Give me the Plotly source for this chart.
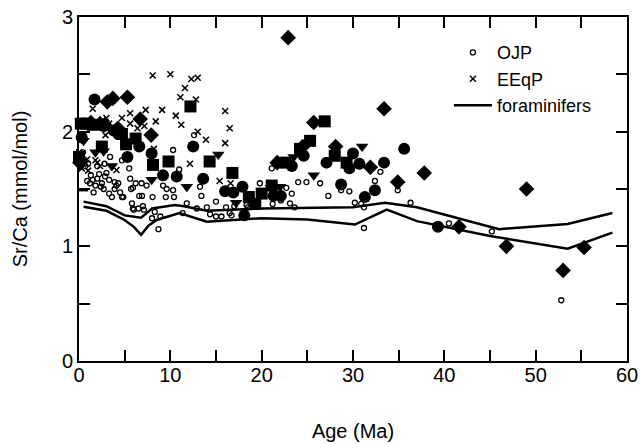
import plotly.graph_objects as go

# ---------------- data ----------------
ojp_x = [0.3, 0.45, 0.6, 0.7, 0.9, 1.0, 1.2, 1.3, 1.5, 1.6, 1.8, 2.0, 2.0, 2.2, 2.4, 2.5, 2.7, 2.8, 2.85, 3.0,
         3.3, 3.3, 3.4, 3.6, 3.9, 3.9, 4.1, 4.3, 4.5, 4.7, 4.7, 4.85, 5.5, 5.6, 5.7, 5.8, 5.9, 5.9, 6.0, 6.2,
         6.5, 6.6, 6.85, 6.9, 7.0, 7.1, 7.4, 8.0, 8.05, 8.3, 8.7, 8.9, 9.2, 9.5, 9.6, 10.3, 10.3, 10.4, 10.97, 11.35,
         11.8, 12.6, 12.9, 13.25, 13.4, 14.0, 14.35, 15.0, 15.0, 15.6, 16.1, 16.5, 16.7, 17.0, 18.35, 18.5, 19.8, 21.1, 21.2, 22.1,
         22.7, 23.1, 23.3, 23.6, 24.0, 24.9, 26.4, 27.3, 28.7, 29.6, 30.2, 30.9, 31.2, 31.2, 32.4, 33.0, 34.9, 36.3, 40.5, 45.2,
         52.8]
ojp_y = [1.78, 1.82, 1.74, 1.70, 1.57, 1.72, 1.55, 1.62, 1.58, 1.47, 1.53, 1.59, 1.70, 1.63, 1.52, 1.55, 1.50, 1.72, 1.61, 1.64,
         1.46, 1.58, 1.78, 1.43, 1.50, 1.56, 1.53, 1.55, 1.47, 1.43, 1.75, 1.43, 1.68, 1.59, 1.50, 1.375, 1.33, 1.51, 1.32, 1.55,
         1.33, 1.44, 1.55, 1.44, 1.35, 1.32, 1.53, 1.245, 1.43, 1.30, 1.15, 1.26, 1.53, 1.43, 1.50, 1.49, 1.84, 1.43, 1.67, 1.29,
         1.375, 1.97, 1.33, 1.52, 1.44, 1.34, 1.28, 1.39, 1.26, 1.26, 1.34, 1.29, 1.27, 1.35, 1.36, 1.34, 1.55, 1.68, 1.37, 1.40,
         1.51, 1.375, 1.46, 1.34, 1.56, 1.56, 1.55, 1.44, 1.49, 1.48, 1.38, 1.37, 1.34, 1.16, 1.57, 1.65, 1.49, 1.38, 1.20, 1.13,
         0.53]

eeqp_x = [0.0, 0.4, 0.9, 1.5, 2.0, 2.3, 2.9, 3.0, 3.3, 4.1, 4.7, 5.6, 5.6, 6.4, 7.15, 7.3, 8.07, 8.2, 8.4, 9.1,
          10.0, 10.6, 11.1, 11.2, 11.6, 12.15, 12.3, 12.8, 13.0, 13.0, 13.9, 15.4, 16.0, 16.0, 16.5, 16.6, 1.0, 0.3, 1.8]
eeqp_y = [1.82, 1.72, 1.76, 2.20, 1.73, 1.70, 1.97, 2.12, 2.07, 1.665, 2.12, 2.16, 2.07, 2.03, 2.05, 2.19, 2.49, 1.85, 2.09, 2.19,
          2.50, 2.14, 2.30, 2.06, 2.38, 1.72, 2.46, 2.28, 2.47, 2.00, 1.93, 1.57, 2.18, 1.90, 2.03, 1.55, 1.66, 1.68, 1.75]

foram_upper_x = [0.5, 3.0, 5.0, 6.8, 8.0, 10.5, 11.5, 14.0, 20.0, 30.0, 33.5, 37.0, 46.0, 53.5, 58.4]
foram_upper_y = [1.39, 1.35, 1.27, 1.25, 1.33, 1.36, 1.35, 1.31, 1.33, 1.34, 1.38, 1.34, 1.15, 1.195, 1.29]
foram_lower_x = [0.5, 3.0, 5.0, 6.0, 6.8, 7.6, 8.5, 11.0, 14.0, 20.0, 25.0, 30.2, 33.7, 37.0, 45.0, 53.5, 58.4]
foram_lower_y = [1.345, 1.31, 1.23, 1.17, 1.10, 1.18, 1.23, 1.29, 1.215, 1.245, 1.235, 1.19, 1.32, 1.22, 1.09, 0.98, 1.12]
foram_short_x = [0.0, 1.0]
foram_short_y = [1.49, 1.49]

circ_x = [0.3, 1.7, 2.7, 3.8, 4.3, 5.3, 6.6, 7.95, 9.2, 10.7, 12.5, 13.6, 16.0, 16.9, 17.9, 18.1, 21.3, 22.1,
          23.3, 24.6, 27.1, 28.7, 29.6, 30.0, 30.7, 31.3, 32.4, 33.4, 35.6, 39.3]
circ_y = [1.95, 2.28, 2.05, 2.01, 1.98, 1.78, 1.87, 1.81, 1.62, 1.61, 1.87, 1.59, 1.48, 1.47, 1.52, 1.27, 1.44, 1.44,
          1.70, 1.79, 1.73, 1.54, 1.68, 1.81, 1.72, 1.43, 1.49, 1.73, 1.85, 1.17]

diam_x = [0.1, 1.3, 2.3, 2.8, 3.1, 3.7, 4.25, 5.3, 6.7, 7.9, 21.7, 22.9, 24.5, 25.7, 28.1, 31.9, 33.4, 34.9,
          37.8, 41.6, 46.8, 49.0, 53.0, 55.3]
diam_y = [1.73, 2.08, 2.07, 2.06, 2.26, 2.29, 2.03, 2.30, 2.11, 1.97, 1.73, 2.82, 1.87, 2.08, 1.87, 1.69, 2.20, 1.56,
          1.64, 1.17, 1.00, 1.50, 0.79, 0.99]

sq_x = [0.2, 0.8, 1.5, 0.0, 2.5, 4.7, 5.15, 6.2, 8.1, 9.8, 12.2, 14.3, 16.8, 18.6, 19.3, 20.0, 21.1, 22.6,
        24.2, 25.3, 26.9, 28.0, 29.3]
sq_y = [2.07, 2.07, 2.06, 1.78, 1.87, 1.98, 1.89, 1.94, 1.71, 1.74, 2.22, 1.74, 1.64, 1.43, 1.37, 1.46, 1.53, 1.73,
        1.85, 1.92, 2.09, 1.79, 1.73]

tri_x = [0.5, 1.8, 2.7, 3.6, 7.95, 11.8, 15.25, 17.2, 21.0, 22.0, 23.5, 25.7, 31.0]
tri_y = [1.92, 1.82, 1.83, 1.70, 1.58, 1.52, 1.80, 1.38, 1.51, 1.52, 1.78, 1.62, 1.87]

x_tickvals = [0, 5, 10, 15, 20, 25, 30, 35, 40, 45, 50, 55, 60]
x_ticktext = ["0", "", "10", "", "20", "", "30", "", "40", "", "50", "", "60"]
y_tickvals = [0, 0.5, 1, 1.5, 2, 2.5, 3]
y_ticktext = ["0", "", "1", "", "2", "", "3"]

# ---------------- figure ----------------
FONT = "Liberation Sans, Arial, sans-serif"
fig = go.Figure()

for xs, ys, sym, sz in [(circ_x, circ_y, "circle", 12), (diam_x, diam_y, "diamond", 12),
                        (sq_x, sq_y, "square", 12), (tri_x, tri_y, "triangle-down", 11)]:
    fig.add_trace(go.Scatter(x=xs, y=ys, mode="markers", showlegend=False, cliponaxis=False,
                             marker=dict(symbol=sym, size=sz, color="black", line=dict(width=0))))

fig.add_trace(go.Scatter(x=ojp_x, y=ojp_y, mode="markers", name="OJP", cliponaxis=False,
                         marker=dict(symbol="circle-open", size=5, color="black", line=dict(width=1.3, color="black"))))
fig.add_trace(go.Scatter(x=eeqp_x, y=eeqp_y, mode="markers", name="EEqP", cliponaxis=False,
                         marker=dict(symbol="x-thin", size=6, color="black", line=dict(width=1.5, color="black"))))

fx = foram_upper_x + [None] + foram_lower_x + [None] + foram_short_x
fy = foram_upper_y + [None] + foram_lower_y + [None] + foram_short_y
fig.add_trace(go.Scatter(x=fx, y=fy, mode="lines", name="foraminifers", connectgaps=False,
                         line=dict(color="black", width=2.5)))

axis_common = dict(showgrid=False, zeroline=False, showline=True, linecolor="black", linewidth=2,
                   mirror="ticks", ticks="inside", ticklen=11, tickwidth=2, tickcolor="black",
                   automargin=False,
                   tickfont=dict(family=FONT, size=20, color="black"))

fig.update_layout(
    width=640, height=444,
    margin=dict(l=79, r=13, t=17, b=83),
    paper_bgcolor="white", plot_bgcolor="white",
    font=dict(family=FONT, color="black"),
    xaxis=dict(range=[0, 60], tickmode="array", tickvals=x_tickvals, ticktext=x_ticktext,
               ticklabelstandoff=-5,
               title=dict(text="Age (Ma)", font=dict(family=FONT, size=20, color="black"), standoff=39),
               **axis_common),
    yaxis=dict(range=[0, 3], tickmode="array", tickvals=y_tickvals, ticktext=y_ticktext,
               title=dict(text="Sr/Ca (mmol/mol)", font=dict(family=FONT, size=20, color="black"), standoff=29),
               **axis_common),
    legend=dict(x=0.675, y=0.95, xanchor="left", yanchor="top", bgcolor="rgba(0,0,0,0)",
                font=dict(family=FONT, size=18, color="black"), tracegroupgap=0, itemwidth=38),
)

fig.write_html("out.html")
